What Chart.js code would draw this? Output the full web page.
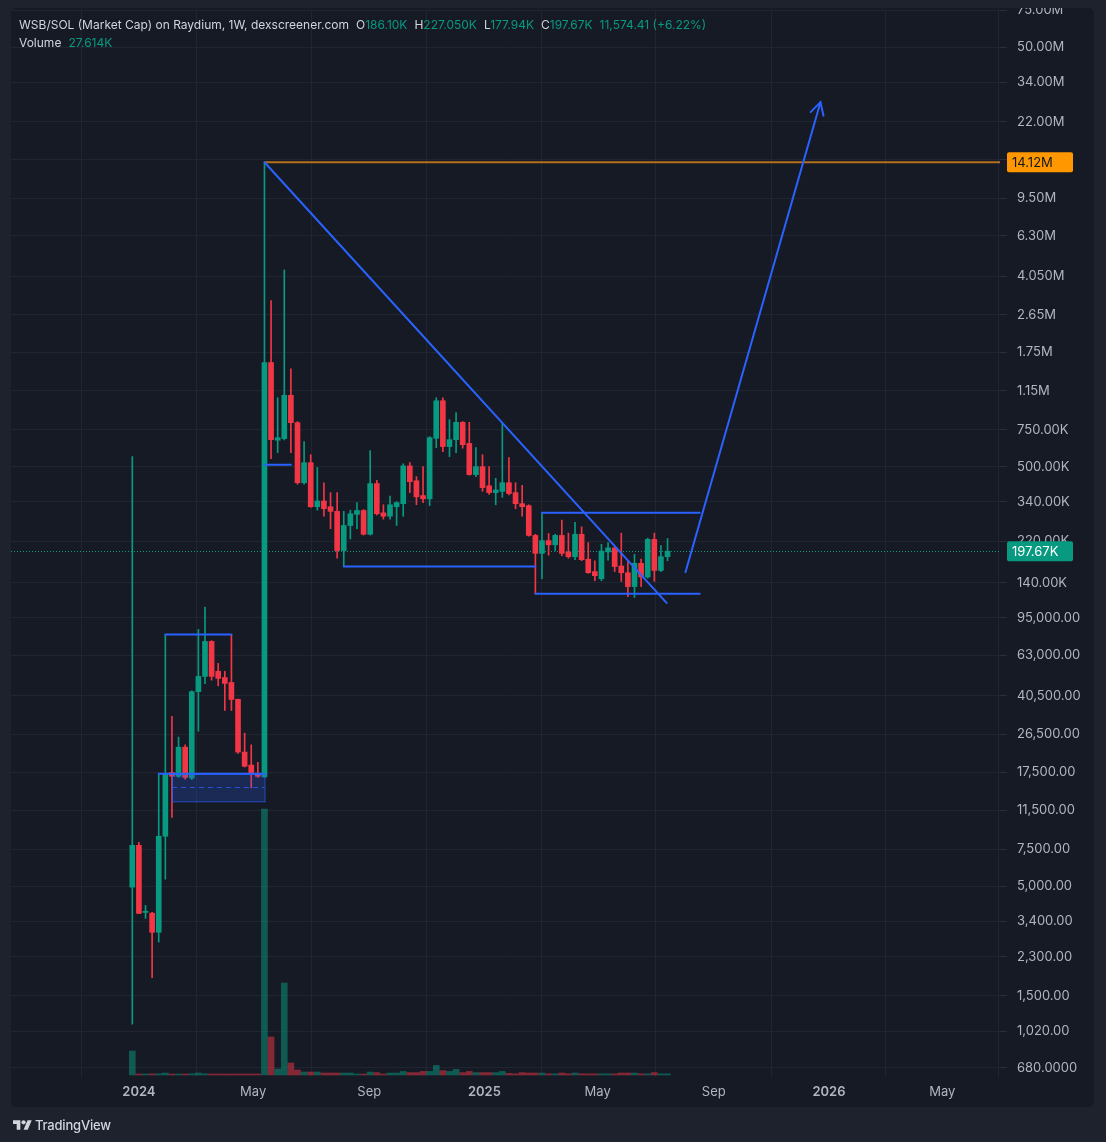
<!DOCTYPE html>
<html><head><meta charset="utf-8">
<script src="https://cdn.jsdelivr.net/npm/chart.js@4.4.1/dist/chart.umd.min.js"></script>
<style>
html,body{margin:0;padding:0;background:#1e222d;}
#wrap{position:relative;width:1106px;height:1142px;overflow:hidden;}
canvas{position:absolute;left:0;top:0;}
#hdr{position:absolute;left:19px;top:16px;font:12px Inter,"Noto Sans",sans-serif;color:#d1d4dc;white-space:nowrap;line-height:18px;}
#hdr .g{color:#089981}
#hdr .k{margin-left:7px}
#foot{position:absolute;left:13px;top:1117px;display:flex;align-items:center;font:500 13px Inter,"Noto Sans",sans-serif;color:#d1d4dc;letter-spacing:-0.2px}
#foot svg{margin-right:3px}
</style></head>
<body><div id="wrap"><canvas id="c" width="1106" height="1142"></canvas>
<div id="hdr"><div>WSB/SOL (Market Cap) on Raydium, 1W, dexscreener.com<span class="k">O</span><span class="g">186.10K</span><span class="k">H</span><span class="g">227.050K</span><span class="k">L</span><span class="g">177.94K</span><span class="k">C</span><span class="g">197.67K</span><span class="k g">11,574.41 (+6.22%)</span></div><div>Volume<span class="k g">27.614K</span></div></div>
<div id="foot"><svg width="19" height="15" viewBox="0 0 36 28"><path d="M14 22H7V11H0V4h14v18zM28 22h-8l7.5-18h8L28 22z" fill="#d1d4dc"/><circle cx="20" cy="8" r="4" fill="#d1d4dc"/></svg>TradingView</div>
</div>
<script>
// ---------- DATA ----------
const firstWeek = '2023-12-25';
const opens  = [4950,7830,3750,3720,3015,8650,17400,16700,23000,16400,42300,50000,73400,52900,49400,46800,38900,21800,18900,17200,
  16600,1568000,668000,680000,1094000,810000,419000,522000,322000,343000,322000,306000,199000,262000,296000,309000,238000,415000,301000,290000,
  322000,333000,504000,428000,364000,351000,682000,1030000,623000,672000,813000,645000,458000,500000,405000,376000,381000,419000,376000,333000,
  326000,235000,193000,222000,212000,235000,196000,186000,238000,181000,158000,146000,196000,205000,168000,156000,134000,173000,149000,225000,
  160000,186100];
const highs  = [558000,8100,4050,3750,17200,79300,32300,25700,23600,42700,83800,107000,74000,57700,52900,79300,39000,26800,23600,19500,
  14120000,3090000,1065000,4330000,1464000,820000,658000,570000,495000,419000,376000,376000,306000,310000,337000,312000,596000,430000,329000,362000,
  340000,516000,523000,448000,500000,695000,1065000,1065000,837000,904000,820000,813000,616000,570000,500000,440000,810000,552000,419000,407000,
  329000,238000,301000,240000,238000,278000,241000,271000,258000,217000,178000,213000,217000,208000,241000,178000,191000,181000,228000,241000,
  210000,227050];
const lows   = [1100,3700,3510,1830,2710,5400,10650,16500,16200,16100,27400,46200,48000,45100,34400,34400,21500,18500,14700,16500,
  16500,546000,583000,670000,583000,412000,412000,320000,310000,290000,253000,183000,167000,226000,253000,236000,236000,294000,281000,281000,
  262000,290000,376000,329000,337000,326000,616000,589000,558000,583000,612000,455000,448000,381000,369000,329000,357000,367000,315000,290000,
  233000,124000,146000,189000,199000,188000,183000,180000,178000,155000,143000,143000,179000,158000,142000,120000,119000,134000,147000,142000,
  158000,177940];
const closes = [7830,3710,3800,3015,8650,17200,16700,23000,16500,42300,50000,73400,50000,48900,46300,38800,21800,18650,17200,16700,
  1568000,672000,687000,1094000,810000,419000,522000,322000,343000,315000,306000,199000,262000,298000,309000,238000,415000,298000,290000,329000,
  337000,504000,424000,359000,351000,687000,1030000,623000,672000,813000,636000,458000,500000,397000,376000,387000,419000,372000,333000,322000,
  235000,193000,222000,212000,235000,193000,186000,238000,180000,156000,151000,198000,205000,167000,156000,134000,173000,149000,225000,160000,
  186000,197670];
const volumes = [600000,25000,25000,30000,30000,50000,25000,25000,25000,30000,50000,30000,25000,25000,25000,25000,25000,25000,25000,25000,
  6650000,950000,150000,2300000,300000,125000,75000,75000,75000,50000,50000,50000,50000,50000,25000,25000,75000,60000,25000,50000,
  50000,90000,60000,60000,90000,90000,240000,110000,90000,140000,60000,90000,60000,60000,60000,60000,90000,40000,30000,60000,
  50000,50000,50000,30000,30000,50000,30000,50000,30000,30000,30000,30000,30000,30000,50000,50000,50000,30000,30000,60000,
  30000,27614];
const yTickValues = [680,1020,1500,2300,3400,5000,7500,11500,17500,26500,40500,63000,95000,140000,220000,340000,500000,750000,
  1150000,1750000,2650000,4050000,6300000,9500000,14500000,22000000,34000000,50000000,75000000];
const yTickLabels = ['680.0000','1,020.00','1,500.00','2,300.00','3,400.00','5,000.00','7,500.00','11,500.00','17,500.00','26,500.00',
  '40,500.00','63,000.00','95,000.00','140.00K','220.00K','340.00K','500.00K','750.00K','1.15M','1.75M','2.65M','4.050M','6.30M',
  '9.50M','14.50M','22.00M','34.00M','50.00M','75.00M'];
const xTickDates  = ['2024-01-01','2024-05-01','2024-09-01','2025-01-01','2025-05-01','2025-09-01','2026-01-01','2026-05-01'];
const xTickLabels = ['2024','May','Sep','2025','May','Sep','2026','May'];
const lastPrice = 197670, lastPriceLabel = '197.67K';
const athPrice = 14120000, athLabel = '14.12M', athDate = '2024-05-13';
// drawings: [date, price]
const trendLine   = [['2024-05-13',14120000],['2025-07-13',112000]];
const arrowLine   = [['2025-08-02',157000],['2025-12-23',27300000]];
const hLines = [
  [['2024-01-29',79300],['2024-04-08',79300]],
  [['2024-05-13',511000],['2024-06-10',511000]],
  [['2024-08-05',167000],['2025-02-24',167000]],
  [['2025-03-03',301000],['2025-08-17',301000]],
  [['2025-02-24',124000],['2025-08-17',124000]],
  [['2024-01-22',17200],['2024-05-13',17200]]
];
const zoneBox = {from:'2024-02-05', to:'2024-05-13', top:17200, bottom:12700, mid:14900};

// ---------- HELPERS ----------
const DAY = 86400000, T0 = Date.UTC(2024,0,1);
const dayOf = s => { const [Y,M,D] = s.split('-').map(Number); return (Date.UTC(Y,M-1,D)-T0)/DAY; };
const d0 = dayOf(firstWeek);
const xs = opens.map((_,i)=> d0 + 7*i);
const UP='#089981', DOWN='#f23645';
const isUp = i => closes[i] >= opens[i];
const xTickVals = xTickDates.map(dayOf);

const bg = {
  id:'bg',
  beforeDraw(chart){
    const c = chart.ctx;
    c.save();
    c.fillStyle = '#1e222d'; c.fillRect(0,0,chart.width,chart.height);
    c.fillStyle = '#161a25';
    c.beginPath(); c.roundRect(11,8,1083,1099,5); c.fill();
    c.restore();
  }
};
const draw = {
  id:'draw',
  beforeDatasetsDraw(chart){
    const {ctx:c, chartArea:a, scales:{y}} = chart;
    const py = Math.round(y.getPixelForValue(lastPrice))+0.5;
    c.save(); c.strokeStyle = UP; c.lineWidth = 1; c.setLineDash([1,2]);
    c.beginPath(); c.moveTo(a.left,py); c.lineTo(a.right,py); c.stroke(); c.restore();
  },
  afterDatasetsDraw(chart){
    const {ctx:c, chartArea:a, scales:{x,y}} = chart;
    const P = p => [x.getPixelForValue(dayOf(p[0])), y.getPixelForValue(p[1])];
    c.save();
    c.beginPath(); c.rect(a.left,a.top,a.right-a.left,a.bottom-a.top); c.clip();
    // zone box
    const bx1 = x.getPixelForValue(dayOf(zoneBox.from)), bx2 = x.getPixelForValue(dayOf(zoneBox.to));
    const by1 = y.getPixelForValue(zoneBox.top), by2 = y.getPixelForValue(zoneBox.bottom), bym = y.getPixelForValue(zoneBox.mid);
    c.fillStyle = 'rgba(41,98,255,0.22)'; c.fillRect(bx1,by1,bx2-bx1,by2-by1);
    c.strokeStyle = 'rgba(41,98,255,0.75)'; c.lineWidth = 1; c.strokeRect(bx1+0.5,by1+0.5,bx2-bx1,by2-by1);
    c.setLineDash([5,4]); c.beginPath(); c.moveTo(bx1,Math.round(bym)+0.5); c.lineTo(bx2,Math.round(bym)+0.5); c.stroke(); c.setLineDash([]);
    // ath orange line
    const ay = y.getPixelForValue(athPrice);
    c.strokeStyle = '#b5701c'; c.lineWidth = 2;
    c.beginPath(); c.moveTo(x.getPixelForValue(dayOf(athDate)), ay); c.lineTo(a.right, ay); c.stroke();
    // blue lines
    c.strokeStyle = '#2962ff'; c.lineWidth = 2; c.lineCap = 'round';
    hLines.concat([trendLine, arrowLine]).forEach(l=>{
      const p1 = P(l[0]), p2 = P(l[1]);
      c.beginPath(); c.moveTo(p1[0],p1[1]); c.lineTo(p2[0],p2[1]); c.stroke();
    });
    // arrow head
    const s = P(arrowLine[0]), e = P(arrowLine[1]);
    const ang = Math.atan2(e[1]-s[1], e[0]-s[0]);
    const L = 14, W = 0.5;
    c.beginPath();
    c.moveTo(e[0]-L*Math.cos(ang-W), e[1]-L*Math.sin(ang-W));
    c.lineTo(e[0],e[1]);
    c.lineTo(e[0]-L*Math.cos(ang+W), e[1]-L*Math.sin(ang+W));
    c.stroke();
    c.restore();
  },
  afterDraw(chart){
    const {ctx:c, chartArea:a, scales:{y}} = chart;
    const tag = (val, txt, fill, col) => {
      const py = y.getPixelForValue(val);
      c.save(); c.fillStyle = fill;
      c.beginPath(); c.roundRect(a.right+7, py-10, 66, 20, 2); c.fill();
      c.fillStyle = col; c.font = '13px Inter, "Noto Sans", sans-serif'; c.textBaseline = 'middle'; c.textAlign='left';
      c.fillText(txt, a.right+12, py+0.5); c.restore();
    };
    tag(athPrice, athLabel, '#ff9800', '#131722');
    tag(lastPrice, lastPriceLabel, UP, '#ffffff');
    c.save(); c.fillStyle = '#1e222d'; c.fillRect(0,0,chart.width,8); c.restore();
  }
};

new Chart(document.getElementById('c'), {
  type:'bar',
  data:{
    datasets:[
      { label:'Bodies', order:1, xAxisID:'x', yAxisID:'y', barThickness:5, minBarLength:1,
        data: xs.map((d,i)=>({x:d, y:[opens[i], closes[i]]})),
        backgroundColor: xs.map((_,i)=> isUp(i)?UP:DOWN) },
      { label:'Wicks', order:2, xAxisID:'x', yAxisID:'y', barThickness:1, minBarLength:1,
        data: xs.map((d,i)=>({x:d, y:[lows[i], highs[i]]})),
        backgroundColor: xs.map((_,i)=> isUp(i)?UP:DOWN) },
      { label:'Volume', order:3, xAxisID:'x', yAxisID:'yVol', barThickness:6,
        data: xs.map((d,i)=>({x:d, y:volumes[i]})),
        backgroundColor: xs.map((_,i)=> isUp(i)?'rgba(8,153,129,0.5)':'rgba(242,54,69,0.5)') }
    ]
  },
  options:{
    responsive:false, animation:false, devicePixelRatio:1,
    datasets:{ bar:{ grouped:false, borderWidth:0 } },
    layout:{ padding:{ left:11, top:10, right:12, bottom:35 } },
    plugins:{ legend:{display:false}, tooltip:{enabled:false} },
    scales:{
      x:{ type:'linear', position:'bottom', min:-135.5, max:912.2, offset:false,
        afterFit: s => { s.height = 30; s.paddingLeft = 0; s.paddingRight = 0; },
        afterBuildTicks: s => { s.ticks = xTickVals.map(v=>({value:v})); },
        grid:{ color:'#212531', drawTicks:false },
        border:{ display:false },
        ticks:{ autoSkip:false, maxRotation:0, padding:7, color:'#b2b5be',
          font: ctx => ({ family:'Inter, "Noto Sans", sans-serif', size:13,
            weight: /^\d{4}$/.test(xTickLabels[xTickVals.indexOf(ctx.tick && ctx.tick.value)]||'') ? '600':'400' }),
          callback: v => xTickLabels[xTickVals.indexOf(v)] ?? '' } },
      y:{ type:'logarithmic', position:'right', min:616, max:75070000,
        afterFit: s => { s.width = 94; s.paddingTop = 0; s.paddingBottom = 0; },
        afterBuildTicks: s => { s.ticks = yTickValues.map(v=>({value:v})); },
        grid:{ color:'#212531', drawTicks:true, tickLength:7, tickColor:'#2a2e39' },
        border:{ display:false },
        ticks:{ autoSkip:false, padding:10, color:'#b2b5be',
          font:{ family:'Inter, "Noto Sans", sans-serif', size:13 },
          callback: v => yTickLabels[yTickValues.indexOf(v)] ?? '' } },
      yVol:{ type:'linear', display:false, min:-50000, max:26625000 }
    }
  },
  plugins:[bg, draw]
});
</script>
</body></html>
